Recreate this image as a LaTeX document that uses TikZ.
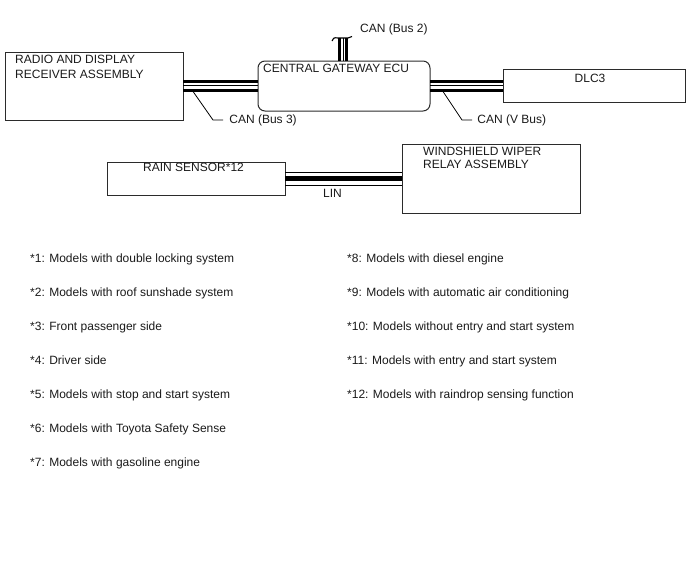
\documentclass[tikz,border=0pt]{standalone}
\usepackage{fontspec}
\setmainfont{Liberation Sans}
\usetikzlibrary{positioning}
\definecolor{boxedge}{HTML}{2B2B2B}
\definecolor{ink}{HTML}{1A1A1A}

\begin{document}
\begin{tikzpicture}[x=1pt, y=-1pt,
    unit/.style={draw=boxedge, line width=1pt, inner sep=0pt, outer sep=0pt},
    lbl/.style={inner sep=0pt, text=ink, font=\fontsize{12}{15}\selectfont, align=left},
    busthick/.style={line width=3pt},
    busthin/.style={line width=1pt},
    leader/.style={line width=0.8pt},
    note/.style={inner sep=0pt, text=ink, font=\fontsize{12}{15}\selectfont, anchor=base west}]
  \useasboundingbox (0,0) rectangle (688,560);

  % units
  \node[unit, minimum width=178pt, minimum height=68pt, anchor=north west] (radio) at (5,52) {};
  \node[unit, rounded corners=7pt, minimum width=172pt, minimum height=50pt, right=75pt of radio] (gw) {};
  \node[unit, minimum width=182pt, minimum height=33pt, right=73pt of gw] (dlc) {};
  \node[unit, minimum width=178pt, minimum height=33pt, anchor=north west] (rain) at (107,162) {};
  \node[unit, minimum width=178pt, minimum height=69pt, right=117pt of rain] (wiper) {};

  % unit names (base = last line)
  \node[lbl, below right=26.3pt and 10pt of radio.north west, anchor=base west] (radiotxt) {RADIO AND DISPLAY\\RECEIVER ASSEMBLY};
  \node[lbl, below right=11pt and 5pt of gw.north west, anchor=base west] (gwtxt) {CENTRAL GATEWAY ECU};
  \node[lbl, below left=12.5pt and 4pt of dlc.north, anchor=base] (dlctxt) {DLC3};
  \node[lbl, below right=9pt and 36pt of rain.north west, anchor=base west] (raintxt) {RAIN SENSOR*12};
  \node[lbl, below right=24.3pt and 21pt of wiper.north west, anchor=base west] (wipertxt) {WINDSHIELD WIPER\\[-1.7pt]RELAY ASSEMBLY};

  % CAN (Bus 3)
  \draw[busthick] ([yshift=4.3pt]radio.east) -- ([yshift=4.3pt]gw.west);
  \draw[busthin] ([yshift=0.3pt]radio.east) -- ([yshift=0.3pt]gw.west);
  \draw[busthick] ([yshift=-4pt]radio.east) -- ([yshift=-4pt]gw.west);
  \coordinate (b3) at ([xshift=9pt, yshift=-4pt]radio.east);
  \draw[leader] (b3) -- ++(21,30) -- ++(10,0) node[lbl, anchor=west, xshift=6pt] (b3txt) {CAN (Bus 3)};

  % CAN (V Bus)
  \draw[busthick] ([yshift=4.3pt]gw.east) -- ([yshift=4.3pt]dlc.west);
  \draw[busthin] ([yshift=0.3pt]gw.east) -- ([yshift=0.3pt]dlc.west);
  \draw[busthick] ([yshift=-4pt]gw.east) -- ([yshift=-4pt]dlc.west);
  \coordinate (vb) at ([xshift=12pt, yshift=-4pt]gw.east);
  \draw[leader] (vb) -- ++(20,30) -- ++(10,0) node[lbl, anchor=west, xshift=5pt] (vbtxt) {CAN (V Bus)};

  % CAN (Bus 2)
  \coordinate (b2) at ([xshift=-1pt, yshift=23pt]gw.north);
  \draw[line width=2.4pt] ([xshift=-4.5pt]gw.north) -- ([xshift=-3.5pt]b2);
  \draw[busthin] ([xshift=-1pt]gw.north) -- (b2);
  \draw[line width=2.4pt] ([xshift=2.5pt]gw.north) -- ([xshift=3.5pt]b2);
  \draw[line width=1.1pt] ([xshift=-11pt, yshift=-3pt]b2) .. controls ([xshift=-9pt, yshift=0.5pt]b2) .. ([xshift=-5pt]b2)
    -- ([xshift=5pt]b2) .. controls ([xshift=7pt]b2) .. ([xshift=9pt, yshift=1.5pt]b2);
  \node[lbl, above right=5.3pt and 17pt of b2, anchor=base west] (b2txt) {CAN (Bus 2)};

  % LIN
  \draw[busthin] ([yshift=6.5pt]rain.east) -- ([yshift=6.5pt]wiper.west);
  \draw[line width=4.5pt] ([yshift=0.2pt]rain.east) -- ([yshift=0.2pt]wiper.west);
  \draw[busthin] ([yshift=-7pt]rain.east) -- ([yshift=-7pt]wiper.west);
  \node[lbl, below right=18.5pt and 38pt of rain.east, anchor=base west] (lintxt) {LIN};

  % notes
  \foreach \txt [count=\i] in {*1: Models with double locking system,
      *2: Models with roof sunshade system,
      *3: Front passenger side,
      *4: Driver side,
      *5: Models with stop and start system,
      *6: Models with Toyota Safety Sense,
      *7: Models with gasoline engine}
    \node[note] (notel\i) at (30,228+34*\i) {\txt};
  \foreach \txt [count=\i] in {*8: Models with diesel engine,
      *9: Models with automatic air conditioning,
      *10: Models without entry and start system,
      *11: Models with entry and start system,
      *12: Models with raindrop sensing function}
    \node[note] (noter\i) at (347,228+34*\i) {\txt};
\end{tikzpicture}
\end{document}
